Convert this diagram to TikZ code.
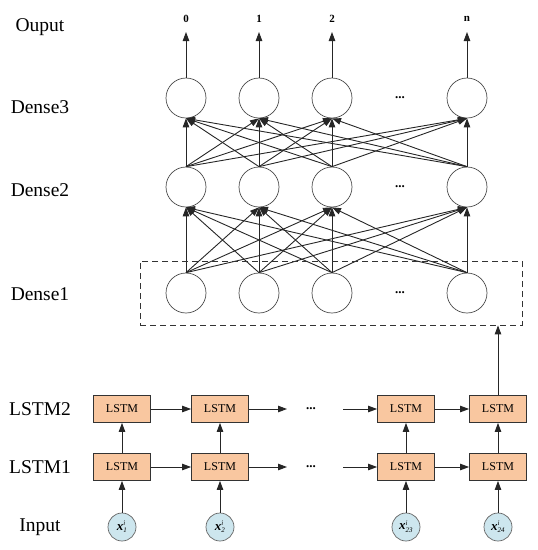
\documentclass[tikz,border=0pt]{standalone}
\usepackage{fontspec}
\setmainfont{Liberation Serif}
\usetikzlibrary{arrows.meta}
\definecolor{boxfill}{HTML}{F9C7A0}
\definecolor{infill}{HTML}{CDE6EE}
\newcommand{\xin}[1]{${\textbf{\textit{x}}}^{\hbox{\fontsize{7}{7}\selectfont\itshape i}}_{\hbox{\fontsize{7}{7}\selectfont\itshape #1}}$}
\begin{document}
\begin{tikzpicture}[x=1pt,y=-1pt,
  neuron/.style={circle,draw=black!70,line width=0.7pt,minimum size=40pt,inner sep=0pt},
  lstmbox/.style={rectangle,draw=black!80,fill=boxfill,line width=0.8pt,minimum width=57pt,minimum height=27pt,inner sep=0pt,font=\fontsize{12}{12}\selectfont},
  inode/.style={circle,draw=black!60,fill=infill,line width=0.7pt,minimum size=28pt,inner sep=0pt,font=\fontsize{13}{13}\selectfont},
  layerlabel/.style={font=\fontsize{19.5}{20}\selectfont,anchor=center},
  outlabel/.style={font=\fontsize{11}{11}\selectfont\bfseries},
  dots/.style={font=\fontsize{13}{13}\selectfont\bfseries},
  arr/.style={-{Triangle[length=9pt,width=6.5pt]},line width=0.9pt,black!85},
  conn/.style={-{Triangle[length=9pt,width=6.5pt]},line width=0.9pt,black!85}
]
\useasboundingbox (0,0) rectangle (538,550);
% layer labels
\node[layerlabel] (lOut) at (40,27) {Ouput};
\node[layerlabel] (lD3) at (40,107) {Dense3};
\node[layerlabel] (lD2) at (40,190) {Dense2};
\node[layerlabel] (lD1) at (40,294) {Dense1};
\node[layerlabel] (lL2) at (40,409) {LSTM2};
\node[layerlabel] (lL1) at (40,467) {LSTM1};
\node[layerlabel] (lIn) at (40,527) {Input};
% dense layers
\foreach \i/\x in {1/186,2/259,3/332,4/467}{
  \node[neuron] (dc\i) at (\x,98) {};
  \node[neuron] (db\i) at (\x,187) {};
  \node[neuron] (da\i) at (\x,293) {};
}
\node[dots] (dd3) at (400,98) {...};
\node[dots] (dd2) at (400,187) {...};
\node[dots] (dd1) at (400,293) {...};
% outputs
\foreach \i/\t in {1/0,2/1,3/2,4/n}{
  \node[outlabel] (o\i) at (dc\i |- 0,19) {\t};
  \coordinate (ot\i) at (dc\i |- 0,32);
  \draw[arr] (dc\i.north) -- (ot\i);
}
% full connections
\foreach \i in {1,2,3,4}{
  \foreach \j in {1,2,3,4}{
    \draw[conn] (db\i.north) -- (dc\j.south);
    \draw[conn] (da\i.north) -- (db\j.south);
  }
}
% dashed box
\node[draw=black!80,dash pattern=on 6pt off 4pt,line width=0.8pt,minimum width=382pt,minimum height=64pt,inner sep=0pt] (dbox) at (331,293) {};
% LSTM boxes
\foreach \i/\x in {1/122,2/220,3/406,4/498}{
  \node[lstmbox] (s\i) at (\x,409) {LSTM};
  \node[lstmbox] (f\i) at (\x,467) {LSTM};
}
\node[inode] (x1) at (122,527) {\xin{1}};
\node[inode] (x2) at (220,527) {\xin{2}};
\node[inode] (x3) at (406,527) {\xin{23}};
\node[inode] (x4) at (498,527) {\xin{24}};
\foreach \i in {1,2,3,4}{
  \draw[arr] (x\i) -- (f\i);
  \draw[arr] (f\i) -- (s\i);
}
% horizontal
\node[dots] (ds2) at (311,409) {...};
\node[dots] (ds1) at (311,467) {...};
\coordinate (e2a) at (287,409);
\coordinate (e2b) at (343,409);
\coordinate (e1a) at (287,467);
\coordinate (e1b) at (343,467);
\draw[arr] (s1) -- (s2);
\draw[arr] (s2) -- (e2a);
\draw[arr] (e2b) -- (s3);
\draw[arr] (s3) -- (s4);
\draw[arr] (f1) -- (f2);
\draw[arr] (f2) -- (e1a);
\draw[arr] (e1b) -- (f3);
\draw[arr] (f3) -- (f4);
% to dense
\draw[arr] (s4.north) -- (s4.north |- dbox.south);
\end{tikzpicture}
\end{document}
